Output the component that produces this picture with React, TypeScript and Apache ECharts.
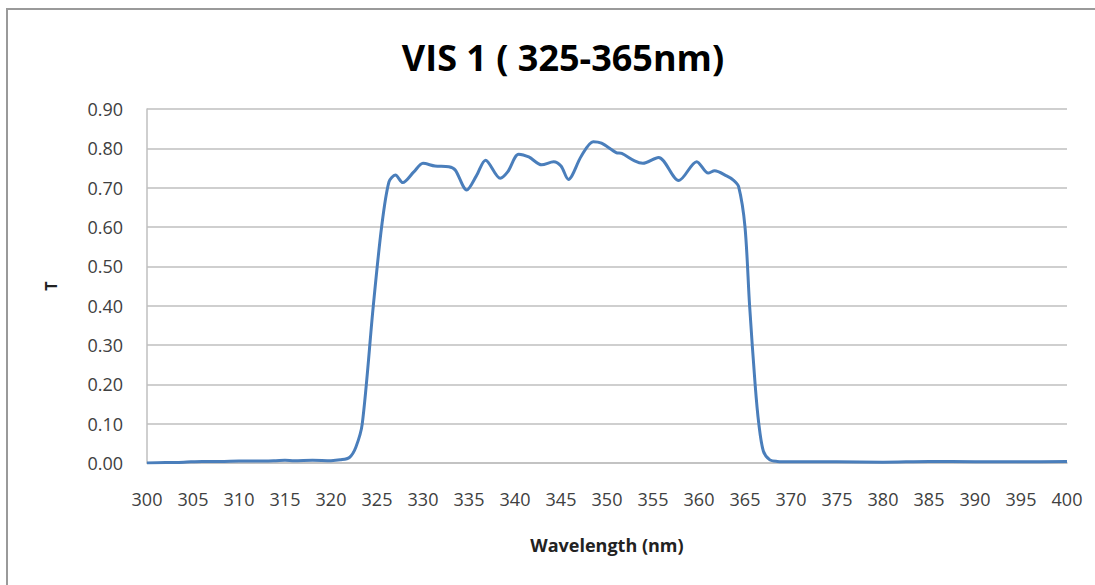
import React, { useEffect, useRef } from "react";
import * as echarts from "echarts";

const titleText = "VIS 1 ( 325-365nm)";
const xAxisName = "Wavelength (nm)";
const yAxisName = "T";

const wavelengths = [
  300, 302, 304, 306, 308, 310, 312, 314, 315, 316, 318, 320, 321, 322.0, 322.7,
  323.4, 324.6, 325.5, 326.3, 327.0, 327.8, 329.0, 330.0, 331.3,
  332.8, 333.5, 334.75, 335.8, 336.8, 338.4, 339.2, 340.4, 341.5, 342.9, 344.2, 345.0,
  345.8, 347.2, 348.5, 349.4, 351.0, 351.6, 353.0, 353.9, 355.6, 357.8, 359.75, 361.0,
  361.7, 363.0, 363.7, 364.3, 365.0, 365.5, 366.1, 366.5, 367.0, 367.7,
  368.5, 370, 375, 380, 385, 390, 395, 400,
];

const transmittance = [
  0.0, 0.001, 0.002, 0.004, 0.004, 0.005, 0.005, 0.006, 0.007, 0.006, 0.007, 0.006, 0.008,
  0.014, 0.04, 0.1, 0.4, 0.6, 0.715, 0.732, 0.713, 0.74,
  0.762, 0.755, 0.753, 0.745, 0.694, 0.73, 0.77, 0.724, 0.74, 0.785, 0.778, 0.758, 0.766,
  0.755, 0.721, 0.78, 0.817, 0.813, 0.789, 0.787, 0.768, 0.762, 0.777, 0.718, 0.766,
  0.737, 0.743, 0.73, 0.72, 0.703, 0.6, 0.4, 0.2, 0.1, 0.03, 0.008, 0.004,
  0.003, 0.003, 0.002, 0.004, 0.003, 0.003, 0.004,
];

const xMin = 300;
const xMax = 400;
const xStep = 5;
const yMin = 0;
const yMax = 0.9;
const yStep = 0.1;

export default function App() {
  const ref = useRef<HTMLDivElement>(null);

  useEffect(() => {
    if (!ref.current) return;
    const chart = echarts.init(ref.current, undefined, { renderer: "svg" });
    const seriesData = wavelengths.map((w, i) => [w, transmittance[i]]);
    chart.setOption({
      animation: false,
      backgroundColor: "#ffffff",
      title: {
        text: titleText,
        left: 558,
        top: 34,
        textAlign: "center",
        textStyle: {
          fontFamily: "Open Sans",
          fontWeight: "bold",
          fontSize: 36,
          color: "#000000",
        },
      },
      graphic: [
        {
          type: "rect",
          shape: { x: 7, y: 9, width: 1300, height: 800 },
          style: { fill: "none", stroke: "#9a9a9a", lineWidth: 2 },
          silent: true,
        },
      ],
      grid: { left: 147, right: 28, top: 109, bottom: 122 },
      xAxis: {
        type: "value",
        min: xMin,
        max: xMax,
        interval: xStep,
        name: xAxisName,
        nameLocation: "middle",
        nameGap: 73,
        nameTextStyle: {
          fontFamily: "Open Sans",
          fontWeight: "bold",
          fontSize: 18,
          color: "#222222",
        },
        axisLine: { show: true, lineStyle: { color: "#bfbfbf", width: 1.5 } },
        axisTick: { show: false },
        splitLine: { show: false },
        axisLabel: {
          margin: 27,
          fontFamily: "Open Sans",
          fontSize: 18,
          color: "#404040",
        },
      },
      yAxis: {
        type: "value",
        min: yMin,
        max: yMax,
        interval: yStep,
        name: yAxisName,
        nameLocation: "middle",
        nameGap: 88,
        nameRotate: 90,
        nameTextStyle: {
          fontFamily: "Open Sans",
          fontWeight: "bold",
          fontSize: 16,
          color: "#222222",
        },
        axisLine: { show: true, lineStyle: { color: "#bfbfbf", width: 1.5 } },
        axisTick: { show: false },
        splitLine: { show: true, lineStyle: { color: "#bfbfbf", width: 1.5 } },
        axisLabel: {
          margin: 24,
          fontFamily: "Open Sans",
          fontSize: 18,
          color: "#404040",
          formatter: (v: number) => v.toFixed(2),
        },
      },
      series: [
        {
          type: "line",
          data: seriesData,
          smooth: 0.3,
          showSymbol: false,
          lineStyle: { color: "#4a7ebb", width: 3 },
        },
      ],
    });
    return () => chart.dispose();
  }, []);

  return (
    <div
      ref={ref}
      style={{ position: "fixed", left: 0, top: 0, width: 1095, height: 585 }}
    />
  );
}
